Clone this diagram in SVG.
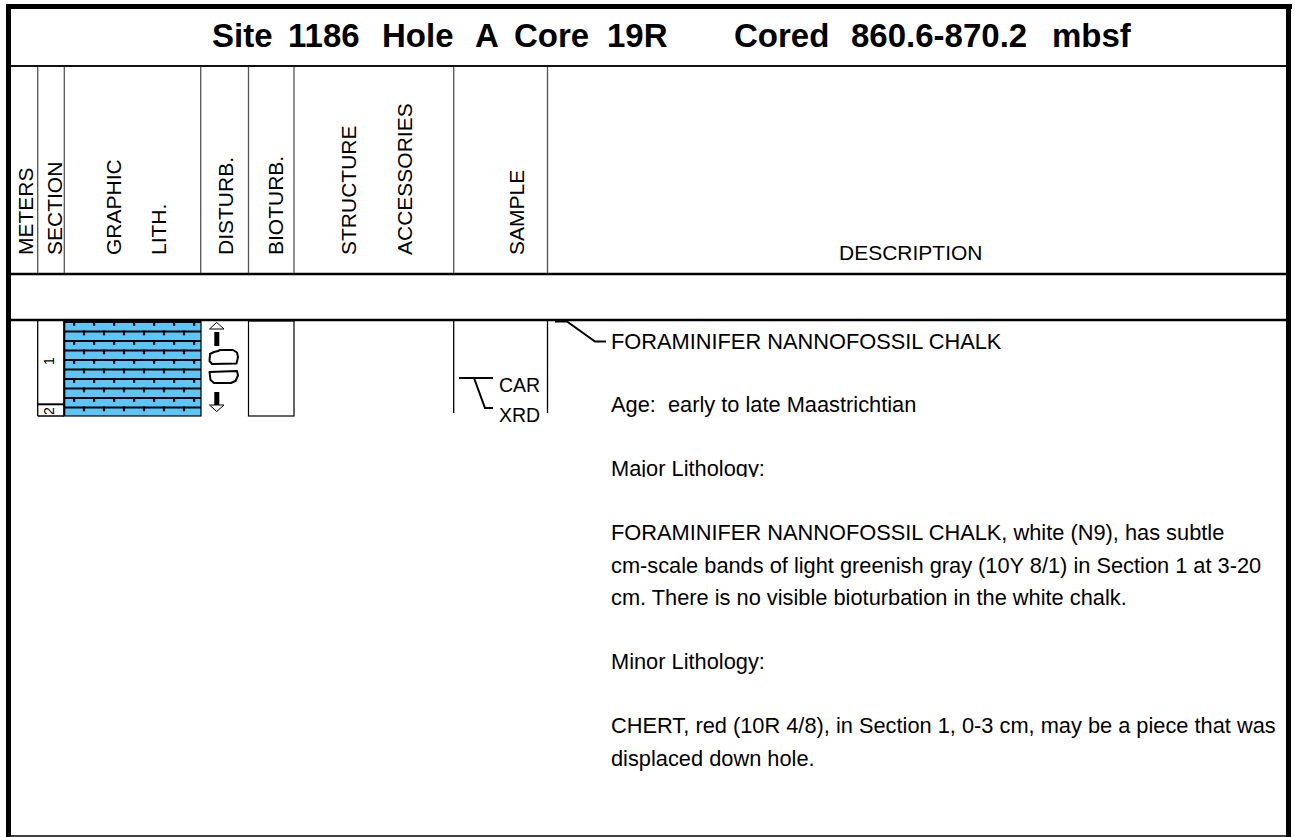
<svg xmlns="http://www.w3.org/2000/svg" width="1295" height="837" viewBox="0 0 1295 837">
<style>
text{font-family:"Liberation Sans",Arial,sans-serif;fill:#000}
.title{font-size:33px;font-weight:bold}
.hd{font-size:21px}
.body{font-size:21.8px}
.smp{font-size:19.5px}
.sec{font-size:14px}
.col{stroke:#555;stroke-width:1.3;fill:none}
.blk{stroke:#000;fill:none}
</style>
<defs>
<pattern id="brick" x="64" y="321" width="20" height="19" patternUnits="userSpaceOnUse">
<rect width="20" height="19" fill="#5DC6F6"/>
<rect x="0" y="0" width="20" height="2" fill="#000"/>
<rect x="9" y="0" width="2.2" height="4.8" fill="#000"/>
<rect x="0" y="9.5" width="20" height="2" fill="#000"/>
<rect x="-1.1" y="9.5" width="2.2" height="4.8" fill="#000"/>
<rect x="18.9" y="9.5" width="2.2" height="4.8" fill="#000"/>
</pattern>
<clipPath id="clipMajor"><rect x="600" y="450" width="300" height="27"/></clipPath>
</defs>

<g id="frame">
<rect x="6" y="4" width="5" height="833" fill="#000"/>
<rect x="6" y="4" width="1286" height="5" fill="#000"/>
<rect x="1286" y="4" width="5" height="833" fill="#000"/>
<line x1="6" y1="836" x2="1291" y2="836" stroke="#000" stroke-width="1.5"/>
<line x1="11" y1="66" x2="1286" y2="66" stroke="#111" stroke-width="2.2"/>
<line x1="11" y1="274" x2="1286" y2="274" stroke="#000" stroke-width="2.4"/>
<line x1="11" y1="320" x2="1286" y2="320" stroke="#000" stroke-width="2.4"/>
</g>

<g id="title">
<text class="title" y="47"><tspan x="212">Site</tspan><tspan x="288">1186</tspan><tspan x="382">Hole</tspan><tspan x="475">A</tspan><tspan x="514">Core</tspan><tspan x="607">19R</tspan><tspan x="734">Cored</tspan><tspan x="851">860.6-870.2</tspan><tspan x="1052">mbsf</tspan></text>
</g>

<g id="header-columns">
<line class="col" x1="37.7" y1="67" x2="37.7" y2="273"/>
<line class="col" x1="64.3" y1="67" x2="64.3" y2="273"/>
<line class="col" x1="200.7" y1="67" x2="200.7" y2="273"/>
<line class="col" x1="248.5" y1="67" x2="248.5" y2="273"/>
<line class="col" x1="294" y1="67" x2="294" y2="273"/>
<line class="col" x1="453.7" y1="67" x2="453.7" y2="273"/>
<line class="col" x1="547.5" y1="67" x2="547.5" y2="273"/>
</g>

<g id="header-labels">
<text class="hd" transform="translate(33,255) rotate(-90)">METERS</text>
<text class="hd" transform="translate(62,255) rotate(-90)">SECTION</text>
<text class="hd" transform="translate(121,255) rotate(-90)">GRAPHIC</text>
<text class="hd" transform="translate(166,255) rotate(-90)">LITH.</text>
<text class="hd" transform="translate(233,255) rotate(-90)">DISTURB.</text>
<text class="hd" transform="translate(283,255) rotate(-90)">BIOTURB.</text>
<text class="hd" transform="translate(356,255) rotate(-90)">STRUCTURE</text>
<text class="hd" transform="translate(412,255) rotate(-90)">ACCESSORIES</text>
<text class="hd" transform="translate(524,255) rotate(-90)">SAMPLE</text>
<text class="hd" x="839" y="260">DESCRIPTION</text>
</g>

<g id="sections">
<line class="blk" x1="37.7" y1="321" x2="37.7" y2="416" stroke-width="1.3"/>
<line class="blk" x1="37.7" y1="416" x2="64" y2="416" stroke-width="1.5"/>
<line class="blk" x1="37.7" y1="404.3" x2="64" y2="404.3" stroke-width="2"/>
<text class="sec" transform="translate(54,365) rotate(-90)">1</text>
<text class="sec" transform="translate(54,415) rotate(-90)">2</text>
</g>

<g id="graphic-lith">
<rect x="64" y="321" width="137" height="95" fill="url(#brick)"/>
<rect x="64" y="321" width="137" height="95" fill="none" stroke="#000" stroke-width="1.2"/>
<line x1="64.3" y1="321" x2="64.3" y2="416" stroke="#000" stroke-width="2"/>
</g>

<g id="disturbance" stroke="#000" stroke-linejoin="round">
<polygon points="216.7,322.5 209.5,329 224,329" fill="#fff" stroke-width="1"/>
<rect x="214.3" y="332" width="5" height="14" fill="#000" stroke="none"/>
<path d="M210,354 L214,352 L218,351 L220,350 L233,350 L237,352.5 L238,357 L236.5,363.5 L212,364 L209.5,361 Z" fill="#fff" stroke-width="2"/>
<path d="M209.5,372 L237,371 L238,375.5 L235.5,381 L231,383 L214,383 L210.5,380 Z" fill="#fff" stroke-width="2"/>
<rect x="214.3" y="392" width="5" height="13" fill="#000" stroke="none"/>
<polygon points="209.5,405 224,405 216.7,411.5" fill="#fff" stroke-width="1"/>
</g>

<g id="bioturbation">
<rect x="248.5" y="321" width="45.5" height="95" fill="none" stroke="#000" stroke-width="1.2"/>
</g>

<g id="sample">
<line class="blk" x1="453.7" y1="321" x2="453.7" y2="413" stroke-width="1.3"/>
<line class="blk" x1="547.5" y1="321" x2="547.5" y2="413" stroke-width="1.3"/>
<text class="smp" x="499" y="392">CAR</text>
<text class="smp" x="499" y="422">XRD</text>
</g>

<g id="connectors" fill="none" stroke="#000" stroke-width="2">
<path d="M459,378 H493 M474,378 L485,408 H493"/>
<path d="M555,321.5 H567 L595,341.5 H606"/>
</g>

<g id="description">
<text class="body" x="611" y="349">FORAMINIFER NANNOFOSSIL CHALK</text>
<text class="body" x="611" y="412" xml:space="preserve">Age:  early to late Maastrichtian</text>
<text class="body" x="611" y="476" clip-path="url(#clipMajor)">Major Lithology:</text>
<text class="body" x="611" y="540">FORAMINIFER NANNOFOSSIL CHALK, white (N9), has subtle</text>
<text class="body" x="611" y="572.5">cm-scale bands of light greenish gray (10Y 8/1) in Section 1 at 3-20</text>
<text class="body" x="611" y="605">cm. There is no visible bioturbation in the white chalk.</text>
<text class="body" x="611" y="669">Minor Lithology:</text>
<text class="body" x="611" y="733">CHERT, red (10R 4/8), in Section 1, 0-3 cm, may be a piece that was</text>
<text class="body" x="611" y="765.5">displaced down hole.</text>
</g>
</svg>
